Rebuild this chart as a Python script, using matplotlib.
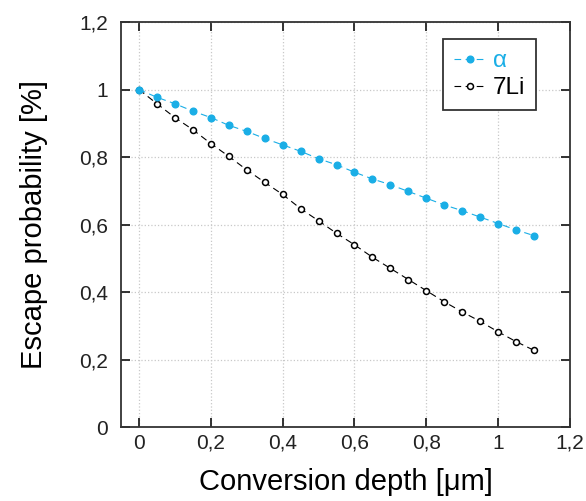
import matplotlib
matplotlib.use('Agg')
import matplotlib.pyplot as plt
from matplotlib.ticker import FuncFormatter
from matplotlib.legend_handler import HandlerLine2D

plt.rcParams['font.family'] = ['Liberation Sans', 'DejaVu Sans']

depth = [0, 0.05, 0.1, 0.15, 0.2, 0.25, 0.3, 0.35, 0.4, 0.45, 0.5, 0.55,
         0.6, 0.65, 0.7, 0.75, 0.8, 0.85, 0.9, 0.95, 1.0, 1.05, 1.1]
alpha = [1.0, 0.977, 0.958, 0.936, 0.917, 0.894, 0.876, 0.855, 0.836, 0.817,
         0.795, 0.777, 0.755, 0.735, 0.718, 0.698, 0.678, 0.658, 0.641, 0.622,
         0.603, 0.584, 0.567]
li7 = [1.0, 0.958, 0.917, 0.881, 0.840, 0.802, 0.762, 0.725, 0.689, 0.647,
       0.611, 0.574, 0.540, 0.503, 0.470, 0.437, 0.404, 0.371, 0.341, 0.313,
       0.282, 0.253, 0.227]

blue = '#1aaee6'


class LeftMarker(HandlerLine2D):
    # marker sits left of centre in the legend handle, like the original
    def get_xdata(self, legend, xdescent, ydescent, width, height, fontsize):
        return [-xdescent, -xdescent + width], [-xdescent + width * 0.38]


fig = plt.figure(figsize=(5.86, 5.01), dpi=100)
ax = fig.add_axes([0.2065, 0.1477, 0.7662, 0.8083])

ax.plot(depth, li7, color='black', marker='o', markersize=4.3,
        markerfacecolor='white', markeredgewidth=1.1, linewidth=0.8,
        linestyle=(0, (6, 4)), label='7Li', zorder=3)
ax.plot(depth, alpha, color=blue, marker='o', markersize=4.8,
        linewidth=0.8, linestyle=(0, (6, 4)), label='α', zorder=4)

ax.set_xlim(-0.05, 1.2)
ax.set_ylim(0, 1.2)
ax.set_xticks([0, 0.2, 0.4, 0.6, 0.8, 1.0, 1.2])
ax.set_yticks([0, 0.2, 0.4, 0.6, 0.8, 1.0, 1.2])
fmt = FuncFormatter(lambda v, p: ('%g' % round(v, 2)).replace('.', ','))
ax.xaxis.set_major_formatter(fmt)
ax.yaxis.set_major_formatter(fmt)
ax.tick_params(direction='in', top=True, right=True, length=6.5, width=1.3,
               labelsize=15, colors='#222222')
ax.tick_params(axis='x', pad=5)
ax.tick_params(axis='y', pad=9.5)
ax.grid(True, linestyle=':', color='#c8c8c8', linewidth=0.9)
for s in ax.spines.values():
    s.set_linewidth(1.3)
    s.set_color('#333333')

ax.set_xlabel('Conversion depth [μm]', fontsize=21, labelpad=11)
ax.set_ylabel('Escape probability [%]', fontsize=21, labelpad=22)

handles, labels = ax.get_legend_handles_labels()
leg = ax.legend(handles[::-1], labels[::-1], loc='upper right',
                bbox_to_anchor=(0.925, 0.957), fontsize=17.5, fancybox=False,
                edgecolor='#333333', framealpha=1, handlelength=1.3,
                handletextpad=0.3, borderpad=0.45, labelspacing=0.2,
                borderaxespad=0, handler_map={h: LeftMarker() for h in handles})
leg.get_frame().set_linewidth(1.3)
leg.get_texts()[0].set_color(blue)

fig.savefig('out.png', dpi=100)
